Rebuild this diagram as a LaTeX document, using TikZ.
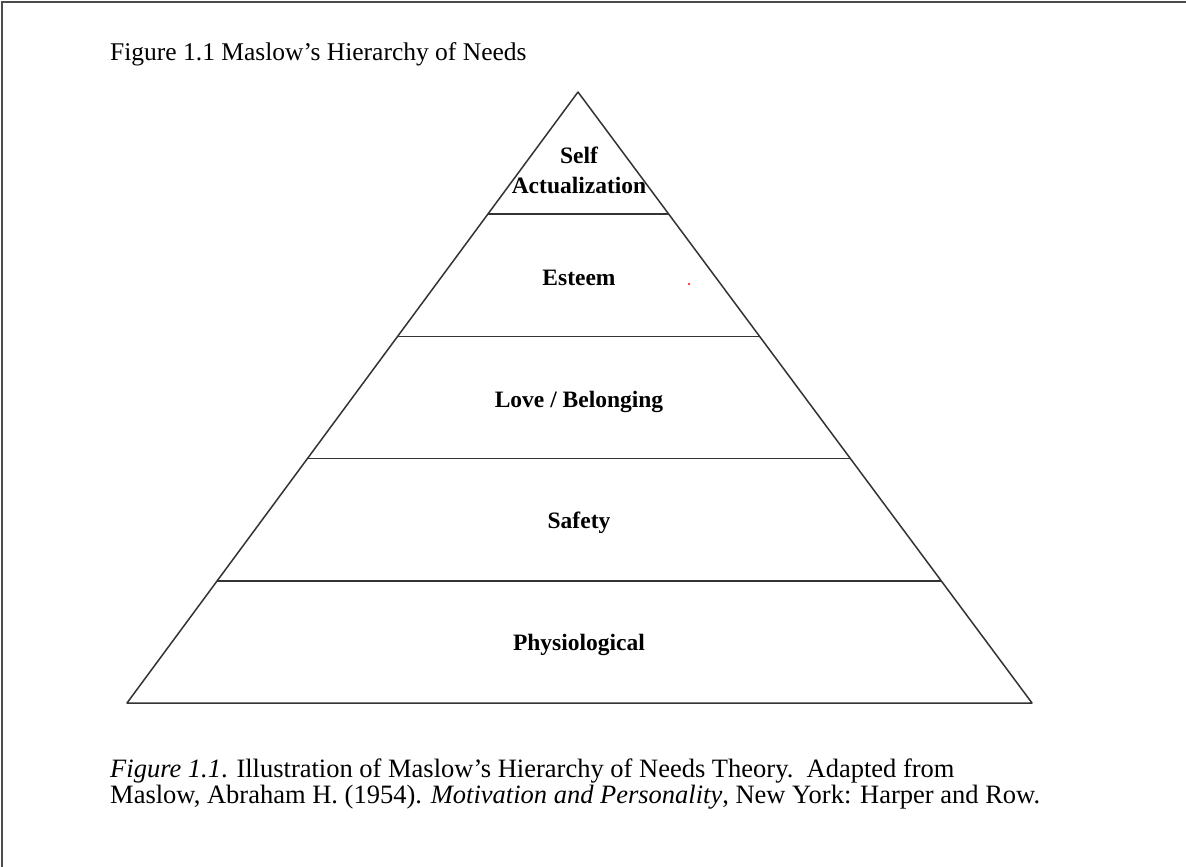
\documentclass[tikz,border=0pt]{standalone}
\usepackage{fontspec}
\setmainfont{Liberation Serif}
\usetikzlibrary{calc}
\begin{document}
\begin{tikzpicture}[x=1pt,y=-1pt,
  frame/.style={draw=black!70,line width=2.5pt},
  pyr/.style={draw=black!80,line width=1.5pt,line join=round},
  level/.style={font=\fontsize{23.5}{27}\selectfont\bfseries,anchor=base,inner sep=0pt},
  plain/.style={font=\fontsize{25.5}{29}\selectfont,anchor=base west,inner sep=0pt},
  captxt/.style={font=\fontsize{26.5}{30}\selectfont,anchor=base west,inner sep=0pt}]
\useasboundingbox[fill=white] (0,0) rectangle (1186,867);
% frame (top and left only)
\coordinate (f0) at (2,867);
\coordinate (f1) at (2,2);
\coordinate (f2) at (1186,2);
\draw[frame] (f0) -- (f1) -- (f2);
% title
\node[plain] (title) at (110,61) {Figure 1.1 Maslow’s Hierarchy of Needs};
% pyramid
\coordinate (apex) at (578,92);
\coordinate (bl) at (127,703);
\coordinate (br) at (1032,703);
\draw[pyr] (apex) -- (bl) -- (br) -- cycle;
\foreach \t/\n in {0.2/a,0.4/b,0.6/c,0.8/d}{
  \coordinate (l\n) at ($(apex)!\t!(bl)$);
  \coordinate (r\n) at ($(apex)!\t!(br)$);
  \draw[pyr] (l\n) -- (r\n);
}
\node[level] (self) at (579,163) {Self};
\node[level] (act) at (579,193) {Actualization};
\node[level] (est) at (579,285) {Esteem};
\node[level] (love) at (579,407) {Love / Belonging};
\node[level] (safe) at (579,528) {Safety};
\node[level] (phys) at (579,650) {Physiological};
\fill[red] (689,284) circle (1.1);
% caption
\node[captxt] (cap1) at (110,777) {\textit{Figure 1.1}. Illustration of Maslow’s Hierarchy of Needs Theory.\ \ Adapted from};
\node[captxt] (cap2) at (110,803) {Maslow, Abraham H. (1954). \textit{Motivation and Personality}, New York: Harper and Row.};
\end{tikzpicture}
\end{document}
